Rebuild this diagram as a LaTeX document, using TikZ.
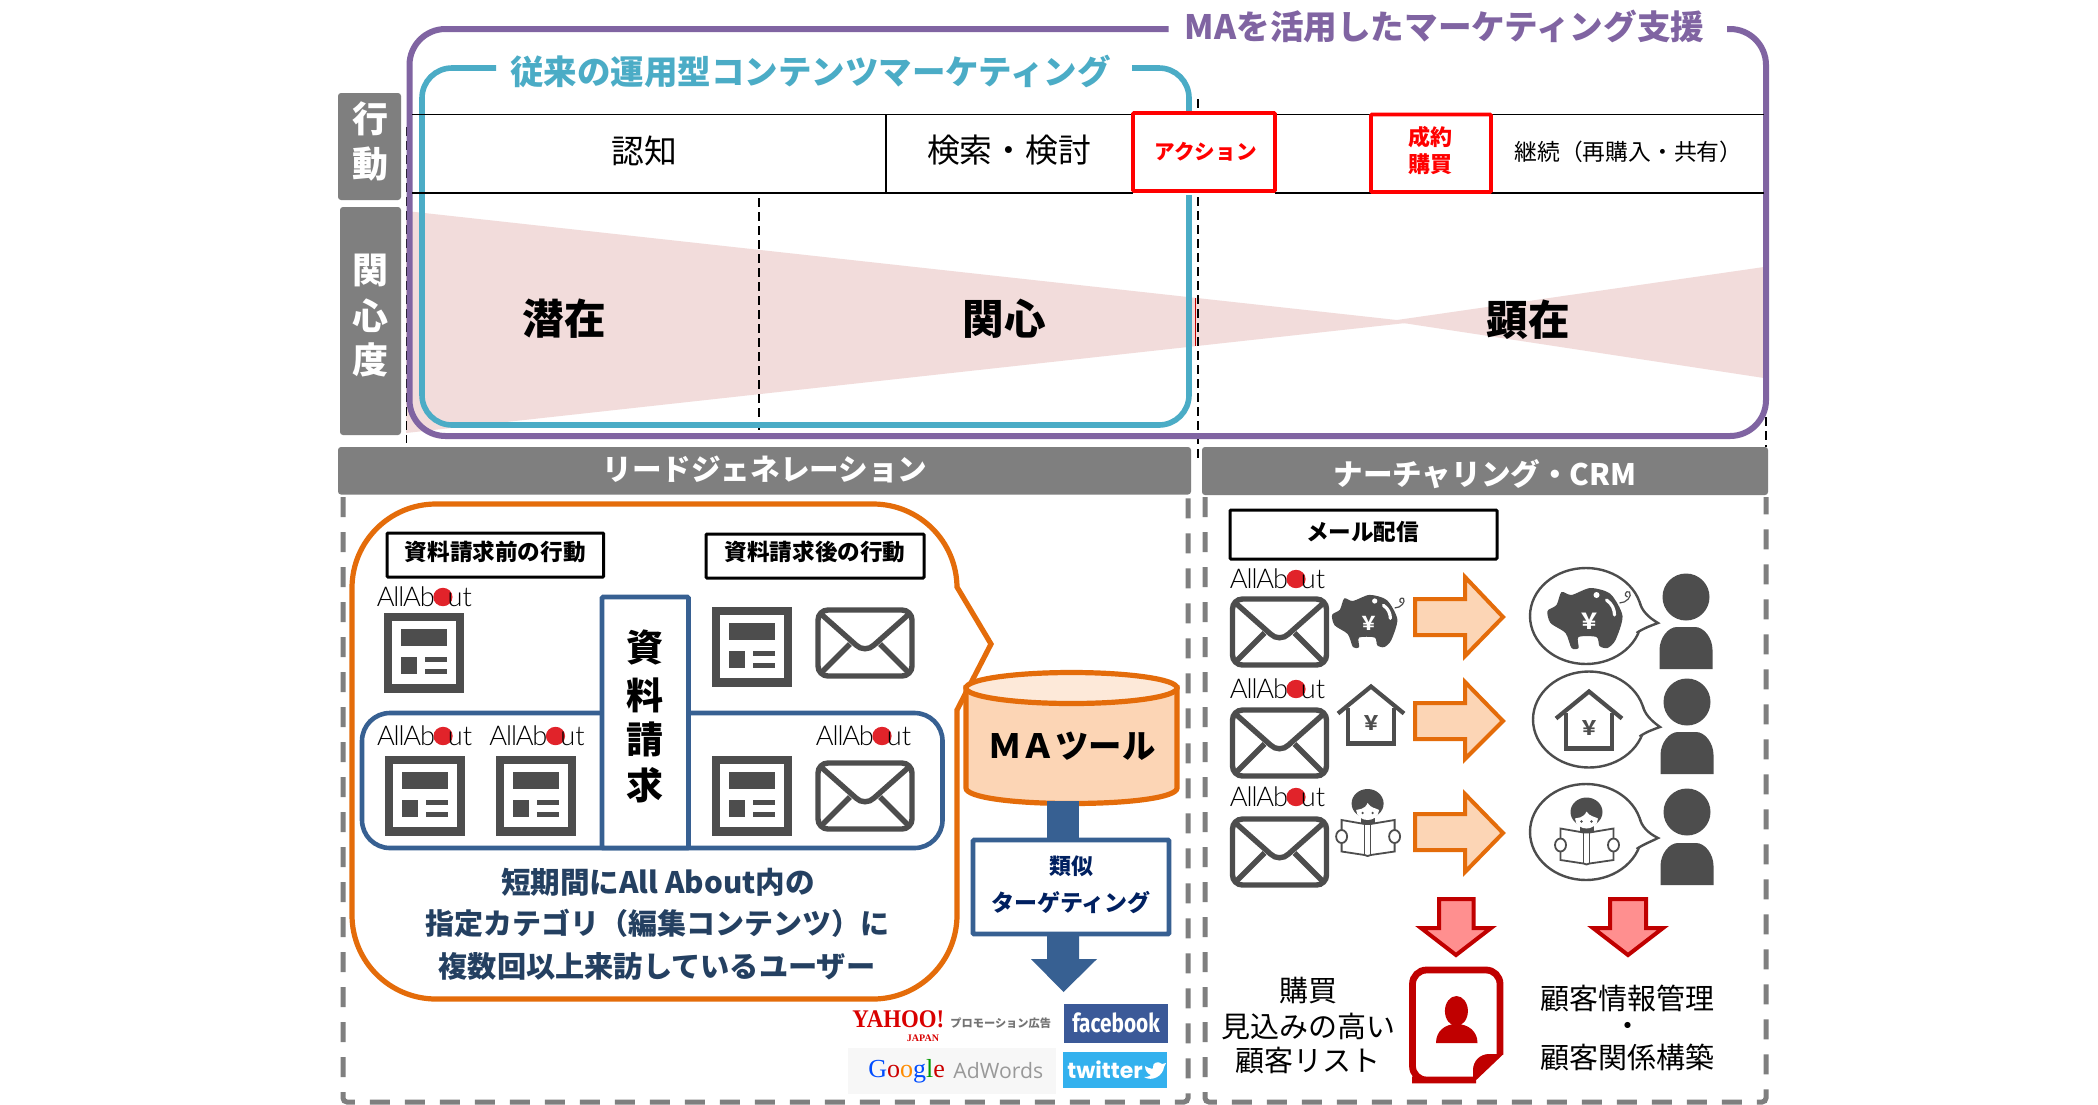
\documentclass[tikz,border=0pt]{standalone}
\usepackage{fontspec}
\setmainfont{Noto Sans CJK JP}
\newfontfamily\logofont{Lato Light}
\newfontfamily\firafont{Fira Sans}
\newfontfamily\popfont{Poppins}
\newfontfamily\serifont{Liberation Serif}
\newfontfamily\adfont{Open Sans}
\newcommand\fsz[1]{\fontsize{#1}{#1}\selectfont}
\definecolor{cgray}{HTML}{7F7F7F}
\definecolor{cdark}{HTML}{4D4D4D}
\definecolor{cpurple}{HTML}{8064A2}
\definecolor{cteal}{HTML}{4BACC6}
\definecolor{corange}{HTML}{E46C0A}
\definecolor{cpeach}{HTML}{FCD5B5}
\definecolor{cpeachl}{HTML}{FDE9D9}
\definecolor{cblue}{HTML}{376092}
\definecolor{cpink}{HTML}{F2DCDB}
\definecolor{cdesc}{HTML}{244061}
\definecolor{cnavy}{HTML}{002060}
\definecolor{cdred}{HTML}{C00000}
\definecolor{csalmon}{HTML}{FF8F8F}
\definecolor{clogored}{HTML}{E1232A}
\definecolor{cfb}{HTML}{3B5998}
\definecolor{ctw}{HTML}{33B1EE}
\tikzset{
  txt/.style={inner sep=0pt,align=center},
  sidebox/.style={fill=cgray,rounded corners=1.5pt},
  sidetxt/.style={txt,text=white,font=\fsz{18}\bfseries},
  hdbox/.style={fill=cgray,rounded corners=1.5pt},
  hdtxt/.style={txt,text=white,font=\fsz{14.8}\bfseries},
  tline/.style={draw=black,line width=0.8pt},
  blackdash/.style={draw=black,line width=0.9pt,dash pattern=on 4.5pt off 2.5pt},
  graydash/.style={draw=cgray,line width=2.5pt,dash pattern=on 10pt off 7.5pt,rounded corners=2pt},
  redbox/.style={draw=red,line width=1.9pt,fill=white,rounded corners=0.5pt},
  labbox/.style={draw=black,line width=1.5pt,fill=white,rounded corners=0.5pt},
  labtxt/.style={txt,font=\fsz{11.3}\bfseries},
  orangearrow/.style={draw=corange,fill=cpeach,line width=2pt,miter limit=10},
  redarrow/.style={draw=cdred,fill=csalmon,line width=2pt,miter limit=10},
  bubble/.style={draw=cdark,line width=1.2pt,fill=white},
}
% article icon
\newcommand\docicon[2]{%
  \begin{scope}[shift={(#1,#2)}]
    \fill[cdark] (0,0) rectangle (80,80);
    \fill[white] (8,8) rectangle (72,71);
    \fill[cdark] (16.5,16) rectangle (63.4,33);
    \fill[cdark] (16.5,43.7) rectangle (33,61);
    \fill[cdark] (40.6,43.7) rectangle (63.4,48.7);
    \fill[cdark] (40.6,56) rectangle (63.4,61);
  \end{scope}}
% envelope icon
\newcommand\envicon[2]{%
  \begin{scope}[shift={(#1,#2)},draw=cdark,line width=2.7pt]
    \draw[rounded corners=5pt] (3,3) rectangle (97,69);
    \draw (6,7) -- (41,38) .. controls (46,43) and (54,43) .. (59,38) -- (94,7);
    \draw (6,66) -- (35,37);
    \draw (94,66) -- (65,37);
  \end{scope}}
% All About logo: #1 name, #2 centre x, #3 centre y
\newcommand\logo[3]{%
  \node[txt,anchor=west,font=\logofont\fsz{13.6}] (#1a) at (#2-48,#3) {\addfontfeatures{LetterSpace=-4}AllAb};
  \fill[clogored] (#2+18.5,#3) ellipse [x radius=9.6,y radius=9.2];
  \node[txt,anchor=east,font=\logofont\fsz{13.6}] (#1b) at (#2+48,#3) {ut};}
% piggy: x y scale yen-size(name)
\newcommand\piggy[5]{%
  \begin{scope}[shift={(#1,#2)},scale=#3]
    \fill[cdark] plot[smooth cycle,tension=0.45] coordinates {(-39,-7) (-30,-13) (-25,-26) (-15,-23) (4,-30) (24,-24) (36,-2) (29,22) (21,30) (13,28) (10,19) (-8,19) (-8,30) (-15,30) (-21,15) (-36,5)};
    \draw[white,line width=1.6pt,line cap=round] (20,-18) .. controls (26,-14) and (28,-8) .. (28,-3);
    \fill[white] (10,-23) circle [radius=3];
    \draw[cdark,line width=0.6pt] (33,-15) .. controls (40,-15) and (46,-22) .. (43,-26) .. controls (39,-28) and (37,-22) .. (41,-21);
    \node[txt,text=white,font=\bfseries\fsz{#4}] (#5) at (3,3) {￥};
  \end{scope}}
% house
\newcommand\houseicon[5]{%
  \begin{scope}[shift={(#1,#2)},scale=#3]
    \draw[cdark,line width=2.1pt,miter limit=10] (-33,-2) -- (0,-29) -- (33,-2);
    \draw[cdark,line width=2.1pt] (-23,-8) -- (-23,28) -- (23,28) -- (23,-8);
    \node[txt,text=cdark,font=\bfseries\fsz{#4}] (#5) at (0,8) {￥};
  \end{scope}}
% reader
\newcommand\readericon[3]{%
  \begin{scope}[shift={(#1,#2)},scale=#3]
    \fill[cdark] (0,-19.5) ellipse [x radius=16,y radius=14.5];
    \fill[cdark] (-7,-8) rectangle (7,3);
    \fill[white] (0,-20) .. controls (-3,-13) and (-9,-14) .. (-11.5,-13) .. controls (-11,-6) and (-5,-3) .. (0,-3) .. controls (5,-3) and (11,-6) .. (11.5,-13) .. controls (8,-15) and (3,-15) .. (0,-20) -- cycle;
    \fill[cdark] (-5,-10) circle [radius=1.3];
    \fill[cdark] (5,-10) circle [radius=1.3];
    \draw[cdark,line width=0.9pt,fill=white] (-26,-3) -- (-3,1) -- (3,1) -- (27,-3) -- (27,28.5) -- (3,32) -- (0,33) -- (-3,32) -- (-26,28.5) -- cycle;
    \draw[cdark,line width=0.7pt] (-3,1) -- (-3,32);
    \draw[cdark,line width=0.7pt] (3,1) -- (3,32);
    \draw[cdark,line width=0.9pt,fill=white] (-26,13.5) ellipse [x radius=5.5,y radius=6.5];
    \draw[cdark,line width=0.9pt,fill=white] (27,13.5) ellipse [x radius=5.5,y radius=6.5];
  \end{scope}}
% speech bubble
\newcommand\bubbleshape[4]{%
  \begin{scope}[shift={(#1,#2)}]
    \path[bubble] (0,0) ellipse [x radius=56,y radius=48];
    \fill[white] (52,-14) -- (#3,#4) -- (50,18) -- cycle;
    \draw[cdark,line width=1.2pt] (53.5,-14) .. controls (56,-5) and (62,1) .. (#3,#4) .. controls (64,10) and (58,12) .. (50.5,17);
  \end{scope}}
% person
\newcommand\personicon[3]{%
  \begin{scope}[shift={(#1,0)}]
    \fill[cdark] (0,#2) ellipse [x radius=23.5,y radius=23.5];
    \fill[cdark] (-26.5,#3+42) -- (-26.5,#3+23) .. controls (-26.5,#3+11) and (-18,#3) .. (-9,#3) -- (9,#3) .. controls (18,#3) and (26.5,#3+11) .. (26.5,#3+23) -- (26.5,#3+42) -- cycle;
  \end{scope}}
\begin{document}
\begin{tikzpicture}[x=0.5pt,y=-0.5pt]
\useasboundingbox (0,0) rectangle (2098,1104);
\fill[white] (0,0) rectangle (2098,1104);

% --- interest bow-tie
\fill[cpink] (406,211) -- (1415,322) -- (406,433) -- cycle;
\fill[cpink] (1390,321) -- (1764,267) -- (1764,378) -- cycle;
\draw[cdred,line width=0.4pt] (1195.5,298) -- (1195.5,346);

% --- dashed guides
\coordinate (g1a) at (406.5,127); \coordinate (g1b) at (406.5,443);
\coordinate (g2a) at (759,198);   \coordinate (g2b) at (759,430);
\coordinate (g3a) at (1198,99);   \coordinate (g3b) at (1198,462);
\coordinate (g4a) at (1766,417);  \coordinate (g4b) at (1766,447);
\draw[blackdash] (g1a) -- (g1b);
\draw[blackdash] (g2a) -- (g2b);
\draw[blackdash] (g3a) -- (g3b);
\draw[blackdash] (g4a) -- (g4b);

% --- side boxes
\fill[sidebox] (338,93) rectangle (401,200);
\fill[sidebox] (340,207) rectangle (401,435);
\node[sidetxt] (sa) at (370.5,118.5) {行};
\node[sidetxt] (sb) at (370.5,164) {動};
\node[sidetxt] (sc) at (370.5,270) {関};
\node[sidetxt] (sd) at (370.5,315.5) {心};
\node[sidetxt] (se) at (370.5,360) {度};

% --- frames
\draw[cteal,line width=2.8pt,rounded corners=15pt] (496,68) -- (422,68) -- (422,425) -- (1189,425) -- (1189,68) -- (1132,68);
\draw[cpurple,line width=3pt,rounded corners=18pt] (1168.5,29) -- (409.5,29) -- (409.5,436) -- (1766,436) -- (1766,29) -- (1727,29);
\node[txt,text=cpurple,font=\bfseries\fsz{16.8}] (tma) at (1444.5,26) {MAを活用したマーケティング支援};
\node[txt,text=cteal,font=\bfseries\fsz{16.75}] (tcc) at (810.5,71) {従来の運用型コンテンツマーケティング};

% --- table rules
\draw[tline] (412,114.3) -- (1763.5,114.3);
\draw[tline] (412,193) -- (1763.5,193);
\draw[tline] (886,114.3) -- (886,193);
\node[txt,font=\fsz{16.4}] (nin) at (644,150.5) {認知};
\node[txt,font=\fsz{16.4}] (ken) at (1009,150.5) {検索・検討};
\fill[white] (1133,191) rectangle (1275,195);
\path[redbox] (1133,113) rectangle (1275,191);
\path[redbox] (1371,114.5) rectangle (1491,192);
\node[txt,text=red,font=\bfseries\fsz{10.3}] (act) at (1205.6,152) {アクション};
\node[txt,text=red,font=\bfseries\fsz{11}] (sei) at (1430.6,137) {成約};
\node[txt,text=red,font=\bfseries\fsz{11}] (kou) at (1430.6,164) {購買};
\node[txt,anchor=west,font=\fsz{11.4}] (kei) at (1514,152) {継続（再購入・共有）};
\node[txt,font=\bfseries\fsz{20.8}] (sen) at (564,319) {潜在};
\node[txt,font=\bfseries\fsz{20.8}] (kan) at (1004,319) {関心};
\node[txt,font=\bfseries\fsz{20.8}] (ken2) at (1528,320) {顕在};

% --- section headers and dashed panels
\draw[graydash] (343,497) -- (343,1102) -- (1188,1102) -- (1188,497);
\draw[graydash] (1205,497) -- (1205,1102) -- (1766,1102) -- (1766,497);
\fill[hdbox] (338,447) rectangle (1191,494.5);
\fill[hdbox] (1202,447) rectangle (1768,495);
\node[hdtxt] (h1) at (765,469) {リードジェネレーション};
\node[hdtxt] (h2) at (1485,474) {ナーチャリング・CRM};

% --- orange callout
\draw[corange,line width=2.6pt,fill=white,miter limit=10] (991,644) -- (957,587) [rounded corners=42pt] -- (957,504) -- (352,504) -- (352,999) -- (957,999) [sharp corners] -- (957,710) -- cycle;
\path[labbox] (387,533) rectangle (603.7,577);
\node[labtxt] (lb1) at (495.3,551.5) {資料請求前の行動};
\path[labbox] (706,534) rectangle (924,578);
\node[labtxt] (lb2) at (815,551.5) {資料請求後の行動};

% --- blue box
\draw[cblue,line width=2.3pt,rounded corners=14pt] (362,713) rectangle (942.5,848);
\path[draw=cblue,fill=white,line width=2.3pt,rounded corners=0.5pt] (602,597) rectangle (688.5,848);
\node[txt,font=\bfseries\fsz{18.5}] (ra) at (645,648) {資};
\node[txt,font=\bfseries\fsz{18.5}] (rb) at (645,695) {料};
\node[txt,font=\bfseries\fsz{18.5}] (rc) at (645,739) {請};
\node[txt,font=\bfseries\fsz{18.5}] (rd) at (645,785) {求};

\logo{l1}{424.4}{597}
\logo{l2}{424.6}{736}
\logo{l3}{537}{736}
\logo{l4}{863.5}{736}
\docicon{384}{613}
\docicon{385}{756}
\docicon{496}{756}
\docicon{712}{756}
\docicon{712}{607}
\envicon{815}{607}
\envicon{815}{760}

\node[txt,text=cdesc,font=\bfseries\fsz{14.8}] (d1) at (658,882) {短期間にAll About内の};
\node[txt,text=cdesc,font=\bfseries\fsz{14.5}] (d2) at (657,923) {指定カテゴリ（編集コンテンツ）に};
\node[txt,text=cdesc,font=\bfseries\fsz{14.6}] (d3) at (657,966) {複数回以上来訪しているユーザー};

% --- MA tool cylinder
\path[draw=corange,fill=cpeach,line width=2.6pt] (966,688) -- (966,788) .. controls (966,797) and (1010,803.5) .. (1071.5,803.5) .. controls (1133,803.5) and (1177,797) .. (1177,788) -- (1177,688) -- cycle;
\path[draw=corange,fill=cpeachl,line width=2.6pt] (1071.5,688) ellipse [x radius=105.5,y radius=15.5];
\node[txt,font=\bfseries\fsz{16.7}] (ma) at (1072,746) {ＭＡツール};
\coordinate (mab) at (1063,801);
\coordinate (simt) at (1063,842);
\draw[cblue,line width=16pt] (mab) -- (simt);

% --- similar targeting
\path[draw=cblue,fill=white,line width=2.3pt,rounded corners=0.5pt] (973,840) rectangle (1169,934);
\node[txt,text=cnavy,font=\bfseries\fsz{11}] (r1) at (1071,866) {類似};
\node[txt,text=cnavy,font=\fsz{11.5}\bfseries] (r2) at (1071,903) {ターゲティング};
\fill[cblue] (1047,935) -- (1079,935) -- (1079,959) -- (1097,959) -- (1063.5,992) -- (1031,959) -- (1047,959) -- cycle;

% --- ad networks
\fill[white!97!black] (848,1048) rectangle (1056,1094);
\node[txt,anchor=west,text=red!85!black,font=\serifont\bfseries\fsz{12.7}] (yh) at (852,1019) {\scalebox{.9}[1]{YAHOO!}};
\node[txt,text=red!85!black,font=\serifont\bfseries\fsz{5}] (yj) at (923,1038) {JAPAN};
\node[txt,anchor=west,text=black!55,font=\bfseries\fsz{5.6}] (yp) at (950,1023) {プロモーション広告};
\fill[cfb] (1064,1004) rectangle (1168,1043);
\node[txt,text=white,font=\firafont\bfseries\fsz{13}] (fb) at (1116,1023) {\scalebox{.8}[1]{facebook}};
\fill[ctw] (1063,1052) rectangle (1167,1088);
\node[txt,anchor=west,text=white,font=\popfont\bfseries\fsz{11}] (tw) at (1067,1070) {twitter};
\fill[white] (1145,1066) .. controls (1150,1069) and (1153,1069) .. (1153,1068) .. controls (1152,1063) and (1158,1060) .. (1162,1064) -- (1166,1063) -- (1164,1067) .. controls (1163,1076) and (1152,1082) .. (1144,1077) .. controls (1148,1077) and (1150,1076) .. (1151,1075) .. controls (1148,1074) and (1145,1071) .. (1145,1066) -- cycle;
\node[txt,anchor=west,font=\serifont\fsz{13}] (gg) at (868,1071) {\textcolor{blue!70!cyan}{G}\textcolor{red!80!black}{o}\textcolor{orange!90!yellow}{o}\textcolor{blue!70!cyan}{g}\textcolor{green!60!black}{l}\textcolor{red!80!black}{e}};
\node[txt,anchor=west,text=black!40,font=\adfont\fsz{10.6}] (ad) at (953,1071) {AdWords};

% --- right panel
\path[labbox] (1230,510) rectangle (1497,559);
\node[labtxt] (mail) at (1362.6,532) {メール配信};
\logo{r1l}{1277.5}{579}
\logo{r2l}{1277.5}{689}
\logo{r3l}{1277.5}{797}
\envicon{1229.5}{596}
\envicon{1229.5}{707}
\envicon{1229.5}{816}
\piggy{1366}{621}{0.87}{9.5}{ysm}
\houseicon{1371}{715.5}{1}{10}{hsm}
\readericon{1367.6}{823}{1}

\path[orangearrow] (1415,599) -- (1465,599) -- (1465,577) -- (1503,617) -- (1465,656) -- (1465,635) -- (1415,635) -- cycle;
\path[orangearrow] (1415,703) -- (1465,703) -- (1465,682) -- (1503,721) -- (1465,759) -- (1465,739) -- (1415,739) -- cycle;
\path[orangearrow] (1415,814) -- (1465,814) -- (1465,794) -- (1503,833) -- (1465,872) -- (1465,850) -- (1415,850) -- cycle;

\bubbleshape{1586}{616}{72}{7}
\bubbleshape{1589}{719.5}{71}{7.5}
\bubbleshape{1586}{832}{72}{6}
\piggy{1586.5}{618}{1}{11}{ybg}
\houseicon{1589}{720.5}{1}{10}{hbg}
\readericon{1586.5}{831.5}{1}
\personicon{1686}{597}{627}
\personicon{1687}{702}{732}
\personicon{1687}{812}{843}

\path[redarrow] (1439,899) -- (1473.5,899) -- (1473.5,928) -- (1491,928) -- (1456,955) -- (1421,928) -- (1439,928) -- cycle;
\path[redarrow] (1610,899) -- (1646,899) -- (1646,928) -- (1663,928) -- (1628,955) -- (1593,928) -- (1610,928) -- cycle;

% --- customer file icon
\draw[cdred,line width=3.4pt,rounded corners=7pt] (1476,1080) -- (1426,1080) -- (1412.5,1080) -- (1412.5,970) -- (1500,970) -- (1500,1054);
\fill[cdred] (1473,1083) -- (1473,1070) .. controls (1473,1061) and (1480,1054) .. (1489,1054) -- (1503.5,1054) -- cycle;
\fill[cdred] (1456.4,1011) ellipse [x radius=11.5,y radius=15];
\fill[cdred] (1436,1043) .. controls (1436,1031) and (1445,1024) .. (1456.5,1024) .. controls (1468,1024) and (1477.5,1031) .. (1477.5,1043) -- cycle;

\node[txt,font=\fsz{14.5}] (t1) at (1308,991) {購買};
\node[txt,font=\fsz{14.5}] (t2) at (1308,1026) {見込みの高い};
\node[txt,font=\fsz{14.5}] (t3) at (1308,1060) {顧客リスト};
\node[txt,font=\fsz{14.5}] (t4) at (1627.5,998) {顧客情報管理};
\node[txt,font=\fsz{14.5}] (t5) at (1627.5,1029) {・};
\node[txt,font=\fsz{14.5}] (t6) at (1627.5,1057) {顧客関係構築};
\end{tikzpicture}
\end{document}
